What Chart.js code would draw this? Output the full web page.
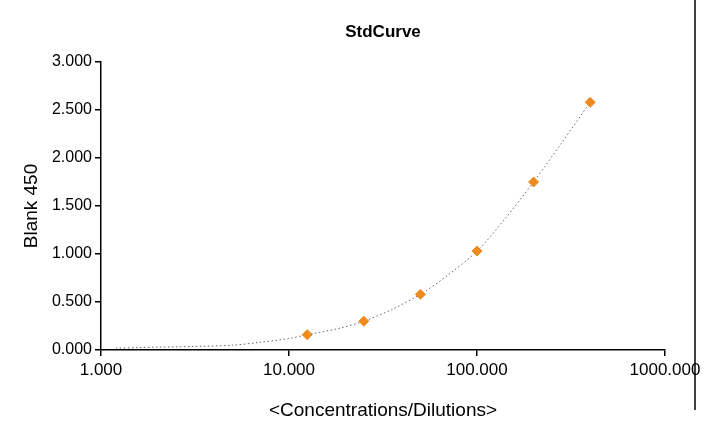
<!DOCTYPE html>
<html><head><meta charset="utf-8">
<script src="https://cdn.jsdelivr.net/npm/chart.js@4/dist/chart.umd.min.js"></script>
<style>html,body{margin:0;padding:0;background:#fff}#w{width:707px;height:426px}</style>
</head><body><div id="w"><canvas id="c"></canvas></div>
<script>
const stdX = [12.5, 25, 50, 100, 200, 400];
const stdY = [0.16, 0.30, 0.58, 1.03, 1.75, 2.58];
const fitX = [1.2, 1.6, 2, 2.5, 3, 5, 7, 10, 12.5, 18, 25, 35, 50, 70, 100, 140, 200, 280, 400];
const fitY = [0.02, 0.025, 0.03, 0.033, 0.036, 0.05, 0.08, 0.12, 0.16, 0.22, 0.30, 0.42, 0.58, 0.78, 1.03, 1.36, 1.75, 2.15, 2.58];
const xTicks = [1, 10, 100, 1000];
const chartTitle = 'StdCurve';

const deco = {
  id: 'deco',
  afterDraw(c) {
    const g = c.ctx, a = c.chartArea;
    g.save();
    g.fillStyle = '#000';
    g.font = 'bold 17px "Liberation Sans", Arial, sans-serif';
    g.textAlign = 'center'; g.textBaseline = 'middle';
    g.fillText(chartTitle, (a.left + a.right) / 2, 32);
    g.strokeStyle = '#000'; g.lineWidth = 1.5;
    g.beginPath(); g.moveTo(695, 0); g.lineTo(695, 410); g.stroke();
    g.restore();
  }
};
const gridOpt = { display: true, drawOnChartArea: false, drawTicks: true, tickLength: 6, tickColor: '#000', color: '#000', lineWidth: 1.5 };

new Chart(document.getElementById('c'), {
  type: 'scatter',
  data: {
    datasets: [
      { data: fitX.map((x, i) => ({x, y: fitY[i]})), showLine: true, borderColor: '#666', borderWidth: 1,
        borderDash: [1.5, 2.5], pointRadius: 0, tension: 0.3, order: 2 },
      { data: stdX.map((x, i) => ({x, y: stdY[i]})), pointStyle: 'rectRot', pointRadius: 5,
        backgroundColor: '#EE8A1E', borderColor: '#EE8A1E', order: 1 }
    ]
  },
  options: {
    responsive: true, maintainAspectRatio: false, animation: false,
    layout: { padding: { top: 62, right: 42, left: 20, bottom: 0 } },
    plugins: { legend: { display: false }, tooltip: { enabled: false } },
    scales: {
      x: {
        type: 'logarithmic', min: 1, max: 1000,
        afterBuildTicks: s => { s.ticks = xTicks.map(v => ({value: v})); },
        afterFit: s => { s.height = 76; },
        grid: gridOpt,
        border: { color: '#000', width: 1.5 },
        ticks: { color: '#000', maxRotation: 0, autoSkip: false, padding: 4, font: { size: 17, family: '"Liberation Sans", Arial' },
          callback: v => Number(v).toFixed(3) },
        title: { display: true, text: '<Concentrations/Dilutions>', color: '#000',
          font: { size: 19, family: '"Liberation Sans", Arial' }, padding: { top: 6 } }
      },
      y: {
        min: 0, max: 3,
        afterFit: s => { s.width = 81; },
        grid: gridOpt,
        border: { color: '#000', width: 1.5 },
        ticks: { stepSize: 0.5, color: '#000', padding: 3, font: { size: 16, family: '"Liberation Sans", Arial' },
          callback: v => Number(v).toFixed(3) },
        title: { display: true, text: 'Blank 450', color: '#000',
          font: { size: 19, family: '"Liberation Sans", Arial' }, padding: 0 }
      }
    }
  },
  plugins: [deco]
});
</script></body></html>
